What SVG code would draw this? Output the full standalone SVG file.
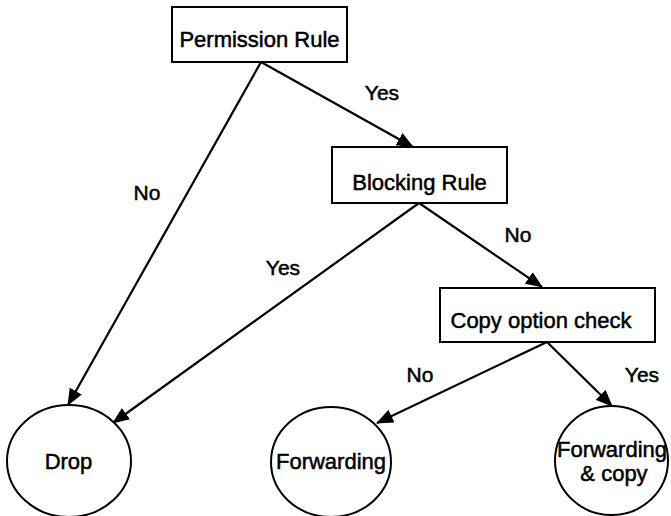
<svg xmlns="http://www.w3.org/2000/svg" width="671" height="516" viewBox="0 0 671 516">
<style>
.box{fill:#fff;stroke:#000;stroke-width:2}
.ell{fill:#fff;stroke:#000;stroke-width:2}
.edge{fill:none;stroke:#000;stroke-width:2.2}
text{font-family:"Liberation Sans",Arial,sans-serif;font-size:22px;fill:#000;stroke:#000;stroke-width:0.5;text-anchor:middle}
.lbl{font-size:21px}
</style>
<defs>
<marker id="ah" markerUnits="userSpaceOnUse" markerWidth="17" markerHeight="14" refX="16" refY="7" orient="auto">
<path d="M0,0 L17,7 L0,14 z" fill="#000"/>
</marker>
</defs>
<rect width="671" height="516" fill="#fff"/>
<g id="connectors">
<line class="edge" x1="261" y1="62" x2="68" y2="405" marker-end="url(#ah)"/>
<line class="edge" x1="261" y1="62" x2="413" y2="147" marker-end="url(#ah)"/>
<line class="edge" x1="419" y1="203" x2="113" y2="423" marker-end="url(#ah)"/>
<line class="edge" x1="419" y1="203" x2="542" y2="287" marker-end="url(#ah)"/>
<line class="edge" x1="547" y1="342" x2="377" y2="423" marker-end="url(#ah)"/>
<line class="edge" x1="547" y1="342" x2="612" y2="406" marker-end="url(#ah)"/>
<text class="lbl" x="382" y="100">Yes</text>
<text class="lbl" x="147" y="200">No</text>
<text class="lbl" x="283" y="275">Yes</text>
<text class="lbl" x="518" y="242">No</text>
<text class="lbl" x="420" y="382">No</text>
<text class="lbl" x="642" y="382">Yes</text>
</g>
<g id="permission-rule">
<rect class="box" x="172" y="7" width="175" height="55"/>
<text x="259.5" y="47">Permission Rule</text>
</g>
<g id="blocking-rule">
<rect class="box" x="332" y="147" width="175" height="56"/>
<text x="419.5" y="190">Blocking Rule</text>
</g>
<g id="copy-option-check">
<rect class="box" x="440" y="288" width="215" height="54"/>
<text x="541" y="328">Copy option check</text>
</g>
<g id="drop">
<ellipse class="ell" cx="69" cy="461" rx="62" ry="56"/>
<text x="68.5" y="469">Drop</text>
</g>
<g id="forwarding">
<ellipse class="ell" cx="331" cy="462" rx="60" ry="55"/>
<text x="331" y="469">Forwarding</text>
</g>
<g id="forwarding-copy">
<ellipse class="ell" cx="611.5" cy="460.5" rx="56.5" ry="54.5"/>
<text x="612" y="457">Forwarding</text>
<text x="614" y="481">&amp; copy</text>
</g>
</svg>
